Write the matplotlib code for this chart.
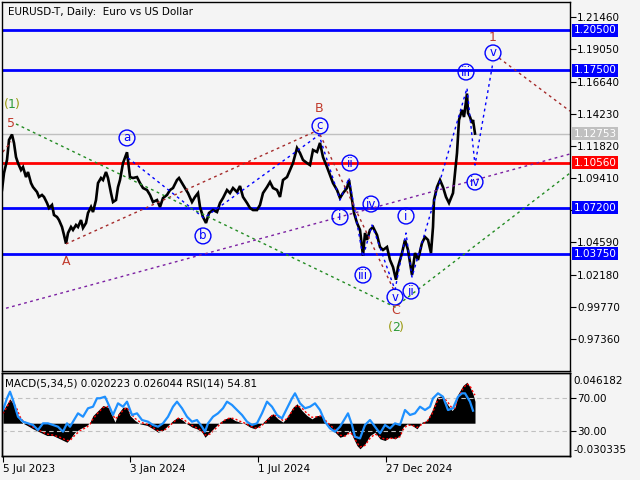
import numpy as np
from matplotlib import pyplot as plt
from matplotlib import transforms

# daily bars, x = bar number counted from 4 Jul 2023
price_bar = [0, 2, 5, 7, 10, 12, 14, 16, 19, 21, 24, 26, 29, 31, 35, 37, 40, 42, 45, 47,
             50, 52, 55, 57, 60, 62, 64, 66, 69, 71, 74, 76, 79, 81, 84, 86, 89, 91, 94, 96,
             99, 101, 104, 106, 109, 111, 114, 116, 118, 121, 125, 128, 131, 135, 138, 141,
             145, 148, 151, 155, 158, 161, 165, 168, 171, 175, 177, 180, 183, 186, 190, 193,
             196, 198, 201, 204, 207, 211, 215, 218, 221, 225, 228, 231, 235, 238, 241, 245,
             248, 251, 255, 258, 261, 265, 268, 271, 275, 278, 281, 285, 288, 291, 295, 298,
             301, 305, 308, 311, 315, 318, 321, 325, 328, 331, 335, 338, 341, 345, 347, 350,
             352, 355, 358, 361, 363, 365, 368, 371, 375, 378, 381, 385, 388, 391, 394, 396,
             400, 403, 406, 410, 413, 416, 420, 423, 426, 429, 431, 432, 435, 438, 441, 444,
             447, 451, 453, 455, 457, 460, 462, 465, 466, 468, 470, 471, 473]
price_val = [1.0852, 1.0979, 1.1077, 1.1227, 1.1268, 1.1204, 1.1099, 1.1054, 1.1002, 1.1024,
             1.0949, 1.0987, 1.0904, 1.0874, 1.0837, 1.0800, 1.0815, 1.0800, 1.0755, 1.0717,
             1.0740, 1.0665, 1.0650, 1.0627, 1.0575, 1.0515, 1.0450, 1.0530, 1.0575, 1.0553,
             1.0590, 1.0575, 1.0627, 1.0568, 1.0605, 1.0680, 1.0725, 1.0687, 1.0777, 1.0904,
             1.0942, 1.0927, 1.0987, 1.0942, 1.0829, 1.0762, 1.0777, 1.0874, 1.0927, 1.1054,
             1.1135, 1.0949, 1.0942, 1.0949, 1.0904, 1.0867, 1.0852, 1.0815, 1.0762, 1.0777,
             1.0725, 1.0792, 1.0815, 1.0852, 1.0867, 1.0927, 1.0942, 1.0904, 1.0867, 1.0829,
             1.0762, 1.0800, 1.0829, 1.0725, 1.0650, 1.0605, 1.0680, 1.0702, 1.0687, 1.0755,
             1.0792, 1.0852, 1.0829, 1.0867, 1.0837, 1.0882, 1.0800, 1.0755, 1.0717, 1.0702,
             1.0702, 1.0740, 1.0829, 1.0874, 1.0912, 1.0867, 1.0852, 1.0800, 1.0927, 1.0949,
             1.1002, 1.1054, 1.1167, 1.1129, 1.1077, 1.1054, 1.1039, 1.1152, 1.1137, 1.1205,
             1.1099, 1.1024, 1.0964, 1.0904, 1.0852, 1.0792, 1.0829, 1.0867, 1.0927, 1.0777,
             1.0680, 1.0605, 1.0553, 1.0360, 1.0530, 1.0478, 1.0553, 1.0575, 1.0515, 1.0425,
             1.0403, 1.0425, 1.0328, 1.0275, 1.0180, 1.0275, 1.0380, 1.0478, 1.0403, 1.0215,
             1.0380, 1.0328, 1.0455, 1.0500, 1.0478, 1.0380, 1.0575, 1.0777, 1.0874, 1.0927,
             1.0874, 1.0800, 1.0755, 1.0829, 1.0979, 1.1129, 1.1377, 1.1452, 1.1399, 1.1575,
             1.1429, 1.1399, 1.1354, 1.1377, 1.1275]

# MACD(5,34,5) histogram, signal and RSI(14)
macd_bar = [1, 5, 8, 11, 15, 18, 21, 25, 31, 38, 45, 51, 58, 65, 68, 73, 78, 85, 88, 91,
            96, 101, 106, 110, 113, 116, 121, 125, 128, 133, 138, 145, 151, 156, 161, 166,
            171, 176, 181, 185, 190, 195, 200, 203, 208, 213, 218, 223, 228, 233, 238, 243,
            248, 253, 258, 263, 268, 271, 276, 281, 285, 288, 291, 295, 300, 305, 310, 315,
            320, 323, 328, 333, 338, 343, 348, 351, 355, 358, 363, 368, 373, 378, 383, 388,
            393, 398, 401, 405, 410, 415, 420, 425, 430, 435, 440, 445, 450, 453, 456, 461,
            465, 468, 471, 473]
macd_val = [0.0117, 0.0180, 0.0226, 0.0180, 0.0087, 0.0025, 0.0000, -0.0020, -0.0052, -0.0083,
            -0.0114, -0.0114, -0.0145, -0.0176, -0.0145, -0.0083, -0.0052, -0.0020, 0.0010, 0.0071,
            0.0117, 0.0164, 0.0148, 0.0071, 0.0010, 0.0087, 0.0148, 0.0148, 0.0071, 0.0025,
            -0.0006, -0.0020, -0.0052, -0.0083, -0.0067, -0.0020, 0.0025, 0.0056, 0.0025, -0.0006,
            -0.0036, -0.0052, -0.0083, -0.0130, -0.0083, -0.0036, 0.0010, 0.0040, 0.0056, 0.0025,
            0.0010, -0.0006, -0.0036, -0.0052, -0.0020, 0.0025, 0.0071, 0.0087, 0.0040, 0.0010,
            0.0056, 0.0102, 0.0148, 0.0180, 0.0117, 0.0071, 0.0040, 0.0071, 0.0071, 0.0010,
            -0.0036, -0.0083, -0.0130, -0.0114, -0.0067, -0.0130, -0.0207, -0.0237, -0.0191, -0.0114,
            -0.0083, -0.0145, -0.0160, -0.0130, -0.0145, -0.0114, -0.0036, -0.0006, -0.0020, -0.0052,
            0.0010, 0.0025, 0.0117, 0.0240, 0.0256, 0.0180, 0.0117, 0.0148, 0.0270, 0.0349,
            0.0380, 0.0333, 0.0270, 0.0202]
signal_val = [0.0090, 0.0150, 0.0205, 0.0200, 0.0130, 0.0060, 0.0020, 0.0000, -0.0035, -0.0070,
              -0.0100, -0.0110, -0.0130, -0.0160, -0.0160, -0.0110, -0.0070, -0.0035, -0.0010, 0.0040,
              0.0095, 0.0145, 0.0155, 0.0100, 0.0040, 0.0060, 0.0120, 0.0145, 0.0100, 0.0045,
              0.0010, -0.0010, -0.0040, -0.0070, -0.0072, -0.0040, 0.0005, 0.0045, 0.0040, 0.0010,
              -0.0020, -0.0045, -0.0070, -0.0110, -0.0100, -0.0055, -0.0010, 0.0030, 0.0050, 0.0040,
              0.0018, 0.0000, -0.0025, -0.0045, -0.0035, 0.0005, 0.0050, 0.0080, 0.0060, 0.0025,
              0.0040, 0.0080, 0.0125, 0.0165, 0.0140, 0.0090, 0.0055, 0.0060, 0.0070, 0.0030,
              -0.0015, -0.0060, -0.0110, -0.0120, -0.0085, -0.0110, -0.0180, -0.0220, -0.0205, -0.0140,
              -0.0100, -0.0125, -0.0150, -0.0140, -0.0140, -0.0125, -0.0060, -0.0020, -0.0018, -0.0040,
              -0.0010, 0.0015, 0.0085, 0.0200, 0.0245, 0.0205, 0.0140, 0.0140, 0.0235, 0.0320,
              0.0365, 0.0345, 0.0290, 0.0260]
rsi_bar = [1, 5, 8, 11, 16, 21, 26, 31, 36, 41, 46, 51, 56, 61, 65, 68, 71, 76, 81, 86,
           91, 95, 98, 103, 106, 111, 116, 121, 125, 130, 135, 140, 146, 151, 156, 161, 166,
           171, 175, 180, 185, 190, 195, 200, 203, 206, 211, 216, 221, 225, 230, 235, 240,
           245, 250, 255, 260, 265, 270, 275, 280, 285, 290, 293, 298, 303, 308, 313, 318,
           323, 328, 333, 338, 343, 346, 350, 353, 358, 363, 368, 373, 378, 383, 388, 393,
           398, 403, 408, 413, 418, 423, 428, 431, 436, 441, 446, 451, 456, 460, 463, 468, 471]
rsi_val = [55.6, 69.8, 77.8, 67.7, 47.5, 41.5, 39.5, 37.5, 31.4, 39.5, 39.5, 37.5, 35.4, 29.4,
           39.5, 35.4, 41.5, 51.6, 47.5, 57.7, 59.6, 69.8, 69.8, 71.7, 63.7, 49.6, 63.7, 59.6,
           65.7, 49.6, 51.6, 43.5, 41.5, 37.5, 35.4, 39.5, 47.5, 59.6, 65.7, 57.7, 47.5, 41.5,
           43.5, 35.4, 29.4, 39.5, 47.5, 51.6, 57.7, 65.7, 61.7, 55.6, 49.6, 41.5, 37.5, 39.5,
           51.6, 65.7, 59.6, 49.6, 45.5, 57.7, 69.8, 75.8, 63.7, 57.7, 59.6, 63.7, 55.6, 41.5,
           33.4, 29.4, 35.4, 45.5, 51.6, 37.5, 23.3, 21.3, 37.5, 43.5, 35.4, 27.4, 37.5, 33.4,
           39.5, 37.5, 55.6, 49.6, 51.6, 59.6, 55.6, 59.6, 69.8, 75.8, 71.7, 55.6, 57.7, 71.7,
           75.8, 75.8, 65.7, 54.8]

# levels drawn on the chart
blue_levels = [1.2050, 1.1750, 1.0720, 1.0375]
red_level = 1.1056
last_price = 1.12753

price_ticks = [1.21460, 1.19050, 1.16640, 1.14230, 1.11820, 1.09410, 1.07000,
               1.04590, 1.02180, 0.99770, 0.97360]
date_bar = [1, 128, 256, 384]
date_labels = ["5 Jul 2023", "3 Jan 2024", "1 Jul 2024", "27 Dec 2024"]

# wave lines (bar, price)
minor_path1 = [(126, 1.1092), (202, 1.0642), (317, 1.1264), (338, 1.0777), (347, 1.0942),
               (361, 1.0350), (370, 1.0590), (393, 1.0103)]
minor_path2 = [(393, 1.0103), (404, 1.0530), (410, 1.0200), (465, 1.1616), (473, 1.1039),
               (491, 1.1811)]
major_paths = [[(-4, 1.1090), (9, 1.1215)],
               [(64, 1.0448), (316, 1.1300), (392, 1.0100)],
               [(497, 1.1841), (568, 1.1443)]]
inter_path = [(14, 1.1347), (393, 0.9975), (568, 1.0979)]
purple_path = [(-2, 0.9954), (568, 1.1122)]

circled = [("a", 125, 1.1242), ("b", 201, 1.0508), ("c", 318, 1.1332), ("ii", 348, 1.1054),
           ("i", 338, 1.0650), ("iv", 369, 1.0747), ("iii", 361, 1.0215), ("v", 393, 1.0050),
           ("ii", 409, 1.0095), ("i", 404, 1.0657), ("iii", 464, 1.1736), ("iv", 473, 1.0912),
           ("v", 491, 1.1879)]
red_marks = [("5", 9, 1.1347), ("A", 64, 1.0320), ("B", 317, 1.1459), ("C", 394, 0.9953),
             ("1", 491, 1.1991)]
green_marks = [("1", 10, 1.1489), ("2", 394, 0.9825)]

bg = "#F4F4F4"
plt.rcParams["font.family"] = "DejaVu Sans"
fig = plt.figure(figsize=(6.4, 4.8), dpi=100, facecolor=bg)

ax = fig.add_axes([2 / 640, 1 - 371 / 480, 568 / 640, 369 / 480], facecolor=bg)
ax.set_xlim(0, 568)
ax.set_ylim(0.94961, 1.22606)

for lv in blue_levels:
    ax.axhline(lv, color="#0000FF", lw=2, zorder=1)
ax.axhline(red_level, color="#FF0000", lw=2, zorder=1)
ax.axhline(last_price, color="#C0C0C0", lw=1, zorder=1)

ax.plot(price_bar, price_val, color="black", lw=1.9, zorder=2, solid_joinstyle="miter")


def draw_path(pts, color):
    xs = [p[0] for p in pts]
    ys = [p[1] for p in pts]
    ax.plot(xs, ys, color=color, lw=1, ls=(0, (2, 2.5)), zorder=2.5)


draw_path(minor_path1, "#0000FF")
draw_path(minor_path2, "#0000FF")
for pth in major_paths:
    draw_path(pth, "#A52A2A")
draw_path(inter_path, "#228B22")
draw_path(purple_path, "#7B1FA2")

for txt, b, p in circled:
    ax.text(b, p, txt, color="#0000FF", fontsize=8.5, ha="center", va="center", zorder=4,
            bbox=dict(boxstyle="circle,pad=0.12", fc="none", ec="#0000FF", lw=1))
for txt, b, p in red_marks:
    ax.text(b, p, txt, color="#C0392B", fontsize=9, ha="center", va="center", zorder=4)
# "(1)" / "(2)": olive brackets round a green number
for txt, b, p in green_marks:
    ax.annotate(txt, (b, p), color="#2E9B3A", fontsize=9, ha="center", va="center", zorder=4)
    ax.annotate("(", (b, p), xytext=(-5.5, 0), textcoords="offset pixels", color="#9A9A10",
                fontsize=9, ha="center", va="center", zorder=4)
    ax.annotate(")", (b, p), xytext=(5.5, 0), textcoords="offset pixels", color="#9A9A10",
                fontsize=9, ha="center", va="center", zorder=4)

ax.yaxis.tick_right()
ax.set_yticks(price_ticks)
# 1.07000 sits under the 1.07200 level box, only its tick shows
ax.set_yticklabels(["" if t == 1.07 else "%.5f" % t for t in price_ticks])
ax.tick_params(axis="y", direction="out", length=4, labelsize=7.5, pad=1, colors="black")
ax.set_xticks([])
for s in ax.spines.values():
    s.set_color("black")
    s.set_linewidth(1)

trans = transforms.blended_transform_factory(ax.transAxes, ax.transData)
for lv, col in [(blue_levels[0], "#0000FF"), (blue_levels[1], "#0000FF"), (last_price, "#C0C0C0"),
                (red_level, "#FF0000"), (blue_levels[2], "#0000FF"), (blue_levels[3], "#0000FF")]:
    lab = "%.5f" % lv
    ax.text(1.006, lv, lab, transform=trans, color="white", fontsize=7.5, ha="left",
            va="center", clip_on=False, zorder=5,
            bbox=dict(boxstyle="square,pad=0.14", fc=col, ec="none"))

fig.text(8 / 640, 1 - 12 / 480, "EURUSD-T, Daily:  Euro vs US Dollar", fontsize=7.5,
         va="center", ha="left")

# indicator window
ax2 = fig.add_axes([2 / 640, 1 - 456 / 480, 568 / 640, 82.7 / 480], facecolor=bg)
ax2.set_xlim(0, 568)
ax2.set_ylim(-0.030335, 0.046182)
ax2.fill_between(macd_bar, 0, macd_val, color="black", lw=0)
ax2.plot(macd_bar, signal_val, color="#FF0000", lw=1, ls=(0, (1.5, 1.5)))
ax2.set_yticks([])
ax2.set_xticks(date_bar)
ax2.set_xticklabels(date_labels)
for lbl in ax2.get_xticklabels():
    lbl.set_ha("left")
ax2.tick_params(axis="x", direction="out", length=4, labelsize=7.5, pad=2)

ax3 = ax2.twinx()
ax3.set_ylim(0, 100)
ax3.axhline(70, color="#C0C0C0", lw=0.8, ls=(0, (4, 3)))
ax3.axhline(30, color="#C0C0C0", lw=0.8, ls=(0, (4, 3)))
ax3.plot(rsi_bar, rsi_val, color="#1E90FF", lw=1.6)
ax3.set_yticks([70, 30])
ax3.set_yticklabels(["70.00", "30.00"])
ax3.tick_params(axis="y", direction="out", length=4, labelsize=7.5, pad=1)
for a in (ax2, ax3):
    for s in a.spines.values():
        s.set_color("black")
        s.set_linewidth(1)

ax3.text(1.006, 0.91, "0.046182", transform=ax3.transAxes, fontsize=7.5, ha="left", va="center")
ax3.text(1.006, 0.07, "-0.030335", transform=ax3.transAxes, fontsize=7.5, ha="left", va="center")
fig.text(5 / 640, 1 - 383 / 480, "MACD(5,34,5) 0.020223 0.026044 RSI(14) 54.81", fontsize=7.5,
         va="center", ha="left")

fig.savefig("out.png", dpi=100, facecolor=bg)
